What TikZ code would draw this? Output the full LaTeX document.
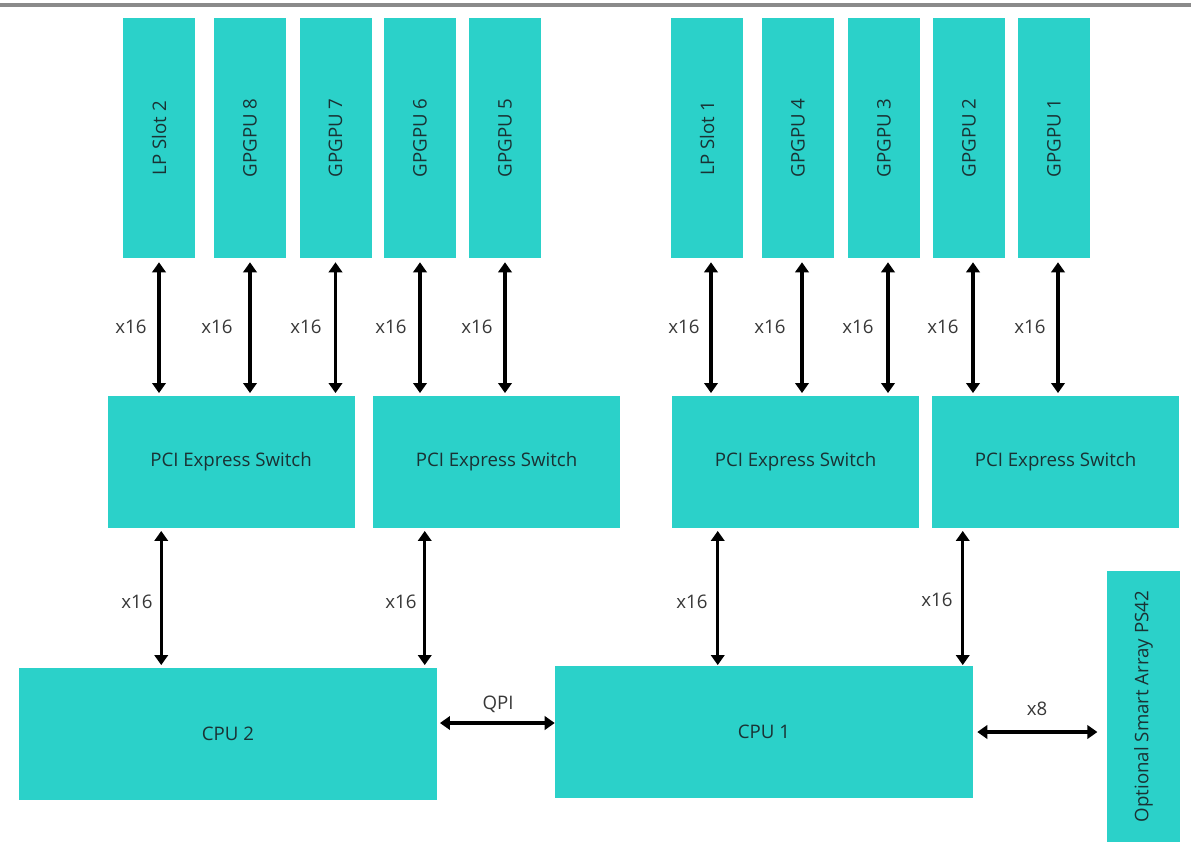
\documentclass[tikz,border=0pt]{standalone}
\usepackage{fontspec}
\setmainfont{Open Sans}
\usetikzlibrary{arrows.meta,calc}
\definecolor{tealbox}{RGB}{43,209,201}
\definecolor{boxtext}{RGB}{26,50,52}
\definecolor{lbl}{RGB}{55,55,55}
\definecolor{rulegray}{RGB}{138,138,138}
\begin{document}
\begin{tikzpicture}[x=0.75pt,y=-0.75pt,
  box/.style={fill=tealbox, draw=none, inner sep=0pt, text=boxtext, font=\fontsize{14}{16}\selectfont},
  slot/.style={box, minimum width=54pt, minimum height=180pt},
  swbox/.style={box, minimum width=185.25pt, minimum height=99pt},
  cpubox/.style={box, minimum width=313.5pt, minimum height=99pt},
  link/.style={line width=2.6pt, draw=black, {Triangle[width=10pt,length=7.5pt]}-{Triangle[width=10pt,length=7.5pt]}},
  lab/.style={text=lbl, font=\fontsize{14}{16}\selectfont, inner sep=0pt}]
\useasboundingbox (0,0) rectangle (1191,851);
\fill[rulegray] (0,3) rectangle (1191,6.5);
% top slots
\node[slot] (lp2) at (159,138) {\rotatebox{90}{LP Slot 2}};
\node[slot] (g8) at (250,138) {\rotatebox{90}{GPGPU 8}};
\node[slot] (g7) at (335.5,138) {\rotatebox{90}{GPGPU 7}};
\node[slot] (g6) at (420,138) {\rotatebox{90}{GPGPU 6}};
\node[slot] (g5) at (505,138) {\rotatebox{90}{GPGPU 5}};
\node[slot] (lp1) at (707,138) {\rotatebox{90}{LP Slot 1}};
\node[slot] (g4) at (798,138) {\rotatebox{90}{GPGPU 4}};
\node[slot] (g3) at (884,138) {\rotatebox{90}{GPGPU 3}};
\node[slot] (g2) at (969,138) {\rotatebox{90}{GPGPU 2}};
\node[slot] (g1) at (1054,138) {\rotatebox{90}{GPGPU 1}};
% switches
\node[swbox] (swL1) at (231,462) {PCI Express Switch};
\node[swbox] (swL2) at (496.5,462) {PCI Express Switch};
\node[swbox] (swR1) at (795.5,462) {PCI Express Switch};
\node[swbox] (swR2) at (1055.5,462) {PCI Express Switch};
% CPUs
\node[cpubox] (cpu2) at (228,734) {CPU 2};
\node[cpubox] (cpu1) at (764,732) {CPU 1};
\node[box, minimum width=54.75pt, minimum height=203.25pt] (smart) at (1143.5,706.5) {\rotatebox{90}{Optional Smart Array PS42}};
% top links
\foreach \n/\s in {lp2/swL1, g8/swL1, g7/swL1, g6/swL2, g5/swL2}{
  \draw[link, shorten <=3pt, shorten >=2pt] (\n.south) -- (\n.south |- \s.north);
}
\foreach \n/\s in {lp1/swR1, g4/swR1, g3/swR1, g2/swR2, g1/swR2}{
  \draw[link, shorten <=3pt, shorten >=2pt] ([xshift=3pt]\n.south) -- ([xshift=3pt]\n.south |- \s.north);
}
\foreach \x in {131,217,306,391,477,684,770,858,943,1030}{
  \node[lab] at (\x,327) {x16};
}
% lower links
\coordinate (a1) at ($(swL1.south west)+(54,0)$);
\coordinate (a2) at ($(swL2.south west)+(52,0)$);
\coordinate (a3) at ($(swR1.south west)+(46,0)$);
\coordinate (a4) at ($(swR2.south west)+(31,0)$);
\draw[link, shorten <=2pt, shorten >=2pt] (a1) -- (a1 |- cpu2.north);
\draw[link, shorten <=2pt, shorten >=2pt] (a2) -- (a2 |- cpu2.north);
\draw[link, shorten <=2pt, shorten >=0.5pt] (a3) -- (a3 |- cpu1.north);
\draw[link, shorten <=2pt, shorten >=0.5pt] (a4) -- (a4 |- cpu1.north);
\node[lab] at (137,602) {x16};
\node[lab] at (401,602) {x16};
\node[lab] at (692,602) {x16};
\node[lab] at (937,600) {x16};
% QPI and x8
\draw[link, shorten <=2pt] (cpu2.east |- 0,723) -- (cpu1.west |- 0,723);
\node[lab] at (498,704) {QPI};
\draw[link, shorten <=3pt, shorten >=7pt] (cpu1.east |- 0,732) -- (smart.west |- 0,732);
\node[lab] at (1037,709) {x8};
\end{tikzpicture}
\end{document}
